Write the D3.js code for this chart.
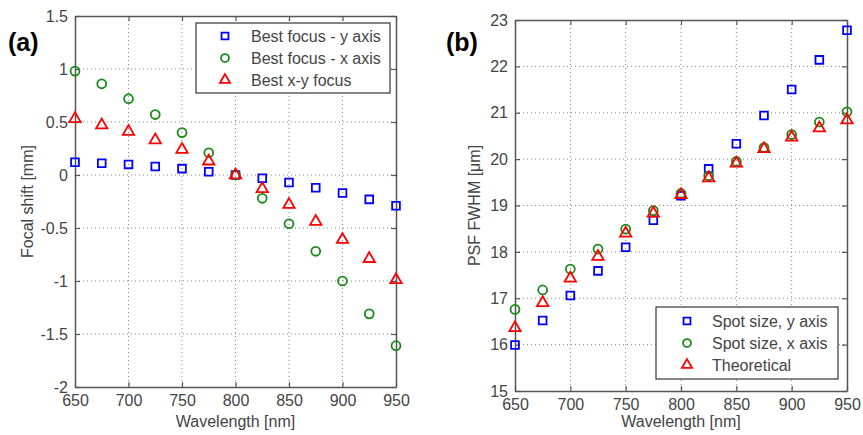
<!DOCTYPE html>
<html>
<head>
<meta charset="utf-8">
<script src="https://cdn.jsdelivr.net/npm/d3@7"></script>
<style>
  body { margin: 0; background: #fff; }
  svg { font-family: "Liberation Sans", Arial, sans-serif; }
</style>
</head>
<body>
<svg id="chart" width="863" height="435"></svg>
<script>
// wavelengths shared by both panels
var wavelengths = [650, 675, 700, 725, 750, 775, 800, 825, 850, 875, 900, 925, 950];
var xTicks = [650, 700, 750, 800, 850, 900, 950];

// panel (a) focal shift [mm]
var focusY = [0.12, 0.11, 0.10, 0.08, 0.06, 0.03, 0.0, -0.03, -0.07, -0.12, -0.17, -0.23, -0.29];
var focusX = [0.98, 0.86, 0.72, 0.57, 0.40, 0.21, 0.0, -0.22, -0.46, -0.72, -1.0, -1.31, -1.61];
var focusXY = [0.53, 0.47, 0.41, 0.33, 0.24, 0.13, 0.0, -0.13, -0.28, -0.44, -0.61, -0.79, -0.99];
var aTicks = [-2, -1.5, -1, -0.5, 0, 0.5, 1, 1.5];
var aLegend = ['Best focus - y axis', 'Best focus - x axis', 'Best x-y focus'];

// panel (b) PSF FWHM [um]
var spotY = [15.99, 16.52, 17.06, 17.59, 18.10, 18.68, 19.21, 19.79, 20.33, 20.94, 21.50, 22.14, 22.78];
var spotX = [16.76, 17.18, 17.63, 18.06, 18.49, 18.89, 19.26, 19.64, 19.95, 20.25, 20.53, 20.80, 21.02];
var theory = [16.36, 16.90, 17.43, 17.90, 18.40, 18.83, 19.23, 19.59, 19.91, 20.22, 20.47, 20.67, 20.84];
var bTicks = [15, 16, 17, 18, 19, 20, 21, 22, 23];
var bLegend = ['Spot size, y axis', 'Spot size, x axis', 'Theoretical'];

var colors = ['#0000ff', '#1a8a1a', '#ff0000'];
var shapes = [d3.symbolSquare, d3.symbolCircle, d3.symbolTriangle];
var sizes = [60, 62, 56];

var svg = d3.select('#chart');

function drawPanel(opt) {
  var x = d3.scaleLinear().domain([650, 950]).range([opt.left, opt.right]);
  var y = d3.scaleLinear().domain(opt.yDomain).range([opt.bottom, opt.top]);
  var g = svg.append('g');

  // dotted grid
  g.selectAll('.vgrid').data(xTicks.slice(1, -1)).enter().append('line')
    .attr('x1', function(d){ return x(d); }).attr('x2', function(d){ return x(d); })
    .attr('y1', opt.top).attr('y2', opt.bottom)
    .attr('stroke', '#888').attr('stroke-width', 1).attr('stroke-dasharray', '1,3');
  g.selectAll('.hgrid').data(opt.yTicks.slice(1, -1)).enter().append('line')
    .attr('y1', function(d){ return y(d); }).attr('y2', function(d){ return y(d); })
    .attr('x1', opt.left).attr('x2', opt.right)
    .attr('stroke', '#888').attr('stroke-width', 1).attr('stroke-dasharray', '1,3');

  // axes, ticks inward on all four sides
  var tk = 5;
  g.append('g').attr('transform', 'translate(0,' + opt.bottom + ')')
    .call(d3.axisBottom(x).tickValues(xTicks).tickSizeInner(-tk).tickSizeOuter(0).tickPadding(8).tickFormat(d3.format('d')));
  g.append('g').attr('transform', 'translate(0,' + opt.top + ')')
    .call(d3.axisTop(x).tickValues(xTicks).tickSizeInner(-tk).tickSizeOuter(0).tickFormat(''));
  g.append('g').attr('transform', 'translate(' + opt.left + ',0)')
    .call(d3.axisLeft(y).tickValues(opt.yTicks).tickSizeInner(-tk).tickSizeOuter(0).tickPadding(7).tickFormat(function(d){ return String(d); }));
  g.append('g').attr('transform', 'translate(' + opt.right + ',0)')
    .call(d3.axisRight(y).tickValues(opt.yTicks).tickSizeInner(-tk).tickSizeOuter(0).tickFormat(''));
  g.selectAll('.domain').attr('stroke', '#555').attr('stroke-width', 1.5);
  g.selectAll('.tick line').attr('stroke', '#555').attr('stroke-width', 1.2);
  g.selectAll('.tick text').attr('fill', '#444').style('font-size', '16px');

  // markers
  opt.series.forEach(function(vals, i){
    g.selectAll('.s' + i).data(vals).enter().append('path')
      .attr('d', d3.symbol().type(shapes[i]).size(sizes[i]))
      .attr('transform', function(d, j){ return 'translate(' + x(wavelengths[j]) + ',' + y(d) + ')'; })
      .attr('fill', 'none').attr('stroke', colors[i]).attr('stroke-width', 1.8);
  });

  // legend
  var lg = opt.legend;
  g.append('rect').attr('x', lg.x).attr('y', lg.y).attr('width', lg.w).attr('height', lg.h)
    .attr('fill', '#fff').attr('stroke', '#444').attr('stroke-width', 1.3);
  lg.labels.forEach(function(t, i){
    var cy = lg.y + lg.first + i * lg.step;
    g.append('path').attr('d', d3.symbol().type(shapes[i]).size(sizes[i] * 0.8))
      .attr('transform', 'translate(' + lg.mx + ',' + cy + ')')
      .attr('fill', 'none').attr('stroke', colors[i]).attr('stroke-width', 1.8);
    g.append('text').attr('x', lg.tx).attr('y', cy).attr('dy', '0.35em')
      .attr('fill', '#444').style('font-size', '16px').text(t);
  });

  // axis titles and panel label
  g.append('text').attr('x', (opt.left + opt.right) / 2).attr('y', 427)
    .attr('text-anchor', 'middle').attr('fill', '#444').style('font-size', '16px').text('Wavelength [nm]');
  g.append('text').attr('transform', 'translate(' + opt.ylx + ',' + ((opt.top + opt.bottom) / 2) + ') rotate(-90)')
    .attr('text-anchor', 'middle').attr('dy', '0.35em').attr('fill', '#444').style('font-size', '16px').text(opt.yLabel);
  g.append('text').attr('x', opt.tag[0]).attr('y', opt.tag[1])
    .attr('font-weight', 'bold').style('font-size', '25px').attr('fill', '#000').text(opt.tagText);
}

drawPanel({
  left: 75, right: 396, top: 16, bottom: 387,
  yDomain: [-2, 1.5], yTicks: aTicks,
  series: [focusY, focusX, focusXY],
  legend: { x: 196, y: 23, w: 194, h: 70, first: 13, step: 22, mx: 225, tx: 251, labels: aLegend },
  ylx: 27, yLabel: 'Focal shift [mm]',
  tag: [8, 51], tagText: '(a)'
});

drawPanel({
  left: 515, right: 847, top: 20, bottom: 391,
  yDomain: [15, 23], yTicks: bTicks,
  series: [spotY, spotX, theory],
  legend: { x: 656, y: 307, w: 182, h: 72, first: 14, step: 22, mx: 687, tx: 712, labels: bLegend },
  ylx: 474, yLabel: 'PSF FWHM [\u03bcm]',
  tag: [446, 51], tagText: '(b)'
});
</script>
</body>
</html>
